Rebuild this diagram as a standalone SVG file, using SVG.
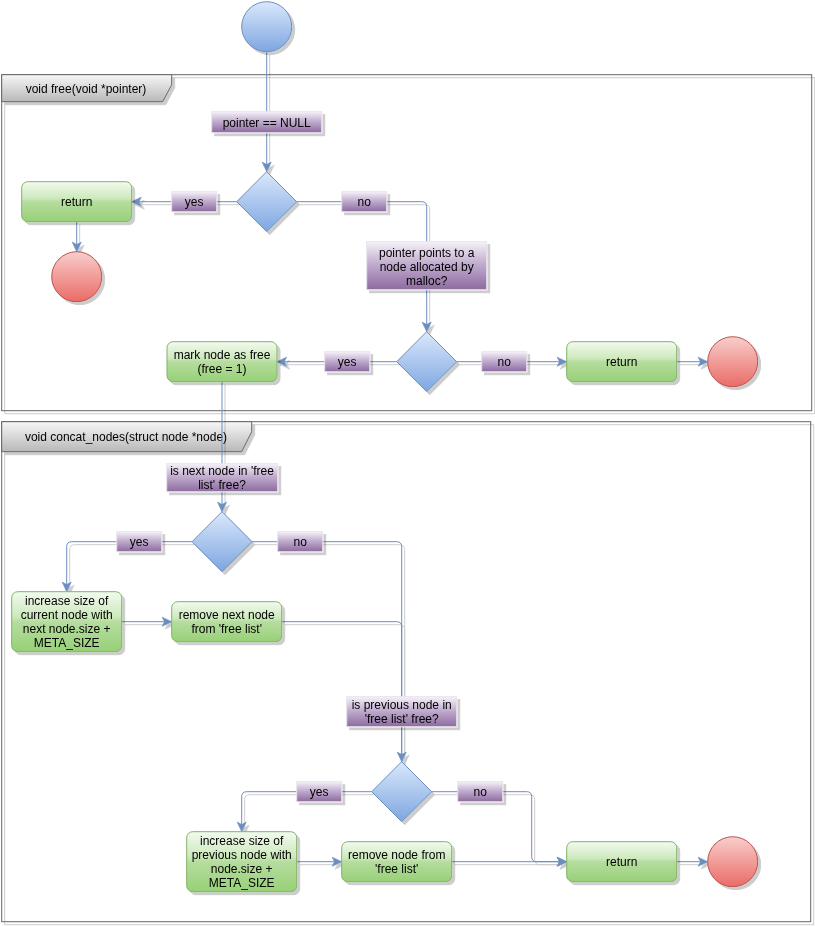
<svg xmlns="http://www.w3.org/2000/svg" width="815" height="926" viewBox="0 0 815 926">
<style>
.t{font-family:"Liberation Sans",Arial,Helvetica,sans-serif;font-size:12px;text-anchor:middle;fill:#000}
.pool{fill:none;stroke:#666;stroke-width:1}
.hdr{fill:url(#gGrey);stroke:#666;stroke-width:1}
.blue{fill:url(#gBlue);stroke:#6c8ebf;stroke-width:1}
.red{fill:url(#gRed);stroke:#b85450;stroke-width:1}
.green{fill:url(#gGreen);stroke:#82b366;stroke-width:1}
.lbl{fill:url(#gPurple);stroke:#e9e3ee;stroke-width:1}
.e{fill:none;stroke:#6c8ebf;stroke-width:1}
.ea{fill:none;stroke:#6c8ebf;stroke-width:1;marker-end:url(#arr)}
</style>
<defs>
<linearGradient id="gBlue" x1="0" y1="0" x2="0" y2="1"><stop offset="0" stop-color="#dae8fc"/><stop offset="1" stop-color="#7ea6e0"/></linearGradient>
<linearGradient id="gRed" x1="0" y1="0" x2="0" y2="1"><stop offset="0" stop-color="#f8cecc"/><stop offset="1" stop-color="#ea6b66"/></linearGradient>
<linearGradient id="gGreen" x1="0" y1="0" x2="0" y2="1"><stop offset="0" stop-color="#f3faf0"/><stop offset="0.42" stop-color="#cce9bb"/><stop offset="0.5" stop-color="#b6dd9f"/><stop offset="1" stop-color="#97d077"/></linearGradient>
<linearGradient id="gPurple" x1="0" y1="0" x2="0" y2="1"><stop offset="0" stop-color="#f6f2f8"/><stop offset="0.45" stop-color="#c2aed0"/><stop offset="1" stop-color="#8d6a9f"/></linearGradient>
<linearGradient id="gGrey" x1="0" y1="0" x2="0" y2="1"><stop offset="0" stop-color="#f7f7f7"/><stop offset="1" stop-color="#b8b8b8"/></linearGradient>
<filter id="sh" filterUnits="userSpaceOnUse" x="0" y="0" width="815" height="926">
<feOffset in="SourceAlpha" dx="3" dy="3"/>
<feComponentTransfer><feFuncA type="linear" slope="0.2"/></feComponentTransfer>
<feMerge><feMergeNode/><feMergeNode in="SourceGraphic"/></feMerge>
</filter>
<marker id="arr" markerUnits="userSpaceOnUse" markerWidth="12" markerHeight="12" viewBox="0 0 10 10" refX="9" refY="5" orient="auto">
<path d="M1,1.2 L9,5 L1,8.8 L3,5 Z" fill="#6c8ebf" stroke="#6c8ebf" stroke-width="0.5"/>
</marker>
</defs>
<rect width="815" height="926" fill="#fff"/>

<g id="pool1" filter="url(#sh)">
<rect class="pool" x="1.7" y="74.7" width="810" height="336"/>
<path class="hdr" d="M1.7 74.7 H171.7 V84.7 L162.7 101.7 H1.7 Z"/>
<text class="t" x="86" y="92.5">void free(void *pointer)</text>
</g>
<g id="pool2" filter="url(#sh)">
<rect class="pool" x="1.7" y="421.7" width="809" height="500"/>
<path class="hdr" d="M1.7 421.7 H251.7 V431.7 L241.7 451.7 H1.7 Z"/>
<text class="t" x="126" y="441">void concat_nodes(struct node *node)</text>
</g>

<g id="connectors" filter="url(#sh)">
<path class="ea" d="M266.7 51.7 V171.7"/>
<path class="ea" d="M236.7 201.7 H131.7"/>
<path class="ea" d="M296.7 201.7 H421.7 Q426.7 201.7 426.7 206.7 V331.7"/>
<path class="ea" d="M76.7 221.7 V251.7"/>
<path class="ea" d="M396.7 361.7 H277"/>
<path class="ea" d="M456.7 361.7 H566.7"/>
<path class="ea" d="M676.7 361.7 H707.7"/>
<path class="ea" d="M222 381.7 V511.7"/>
<path class="ea" d="M192 541.7 H71.7 Q66.7 541.7 66.7 546.7 V591.7"/>
<path class="ea" d="M252 541.7 H396.7 Q401.7 541.7 401.7 546.7 V761.7"/>
<path class="ea" d="M121.7 621.7 H171.7"/>
<path class="e" d="M281.7 621.7 H396.7 Q401.7 621.7 401.7 626.7 V761.7"/>
<path class="ea" d="M371.7 791.7 H246.7 Q241.7 791.7 241.7 796.7 V831.7"/>
<path class="ea" d="M431.7 791.7 H526.7 Q531.7 791.7 531.7 796.7 V856.7 Q531.7 861.7 536.7 861.7 H566.7"/>
<path class="ea" d="M296.7 861.7 H341.7"/>
<path class="ea" d="M451.7 861.7 H566.7"/>
<path class="ea" d="M676.7 861.7 H707.7"/>
</g>

<g id="start" filter="url(#sh)"><circle class="blue" cx="266.7" cy="26.7" r="25"/></g>

<g id="lbl_null" filter="url(#sh)"><rect class="lbl" x="211.7" y="111.7" width="110" height="21"/><text class="t" x="266.7" y="126.5">pointer == NULL</text></g>

<g id="dec1" filter="url(#sh)"><path class="blue" d="M266.7 171.7 L296.7 201.7 L266.7 231.7 L236.7 201.7 Z"/></g>
<g id="return1" filter="url(#sh)"><rect class="green" x="21.7" y="181.7" width="110" height="40" rx="6"/><text class="t" x="76.7" y="206">return</text></g>
<g id="end1" filter="url(#sh)"><circle class="red" cx="76.7" cy="276.7" r="25"/></g>
<g id="lbl_yes1" filter="url(#sh)"><rect class="lbl" x="171.7" y="191.7" width="45" height="20"/><text class="t" x="194.2" y="206">yes</text></g>
<g id="lbl_no1" filter="url(#sh)"><rect class="lbl" x="341.7" y="191.7" width="45" height="20"/><text class="t" x="364.2" y="206">no</text></g>

<g id="lbl_malloc" filter="url(#sh)"><rect class="lbl" x="366.7" y="241.7" width="120" height="48"/>
<text class="t" x="426.7" y="257">pointer points to a</text><text class="t" x="426.7" y="271">node allocated by</text><text class="t" x="426.7" y="285">malloc?</text></g>

<g id="dec2" filter="url(#sh)"><path class="blue" d="M426.7 331.7 L456.7 361.7 L426.7 391.7 L396.7 361.7 Z"/></g>
<g id="lbl_yes2" filter="url(#sh)"><rect class="lbl" x="324.7" y="351.7" width="45" height="20"/><text class="t" x="347.2" y="366">yes</text></g>
<g id="lbl_no2" filter="url(#sh)"><rect class="lbl" x="481.7" y="351.7" width="45" height="20"/><text class="t" x="504.2" y="366">no</text></g>
<g id="return2" filter="url(#sh)"><rect class="green" x="566.7" y="341.7" width="110" height="40" rx="6"/><text class="t" x="621.7" y="366">return</text></g>
<g id="end2" filter="url(#sh)"><circle class="red" cx="732.7" cy="361.7" r="25"/></g>
<g id="mark" filter="url(#sh)"><rect class="green" x="167" y="341.7" width="110" height="40" rx="6"/>
<text class="t" x="222" y="359">mark node as free</text><text class="t" x="222" y="373">(free = 1)</text></g>

<g id="lbl_next" filter="url(#sh)"><rect class="lbl" x="166.7" y="463.7" width="111" height="28"/>
<text class="t" x="222" y="475">is next node in 'free</text><text class="t" x="222" y="489">list' free?</text></g>
<g id="dec3" filter="url(#sh)"><path class="blue" d="M222 511.7 L252 541.7 L222 571.7 L192 541.7 Z"/></g>
<g id="lbl_yes3" filter="url(#sh)"><rect class="lbl" x="116.7" y="531.7" width="45" height="20"/><text class="t" x="139.2" y="546">yes</text></g>
<g id="lbl_no3" filter="url(#sh)"><rect class="lbl" x="277.7" y="531.7" width="45" height="20"/><text class="t" x="300.2" y="546">no</text></g>
<g id="inc_cur" filter="url(#sh)"><rect class="green" x="11.7" y="591.7" width="110" height="60" rx="6"/>
<text class="t" x="66.7" y="605">increase size of</text><text class="t" x="66.7" y="619">current node with</text><text class="t" x="66.7" y="633">next node.size +</text><text class="t" x="66.7" y="647">META_SIZE</text></g>
<g id="rm_next" filter="url(#sh)"><rect class="green" x="171.7" y="601.7" width="110" height="40" rx="6"/>
<text class="t" x="226.7" y="619">remove next node</text><text class="t" x="226.7" y="633">from 'free list'</text></g>

<g id="lbl_prev" filter="url(#sh)"><rect class="lbl" x="346.7" y="696.7" width="110" height="30"/>
<text class="t" x="401.7" y="709">is previous node in</text><text class="t" x="401.7" y="723">'free list' free?</text></g>
<g id="dec4" filter="url(#sh)"><path class="blue" d="M401.7 761.7 L431.7 791.7 L401.7 821.7 L371.7 791.7 Z"/></g>
<g id="lbl_yes4" filter="url(#sh)"><rect class="lbl" x="296.7" y="781.7" width="45" height="20"/><text class="t" x="319.2" y="796">yes</text></g>
<g id="lbl_no4" filter="url(#sh)"><rect class="lbl" x="457.7" y="781.7" width="45" height="20"/><text class="t" x="480.2" y="796">no</text></g>
<g id="inc_prev" filter="url(#sh)"><rect class="green" x="186.7" y="831.7" width="110" height="60" rx="6"/>
<text class="t" x="241.7" y="845">increase size of</text><text class="t" x="241.7" y="859">previous node with</text><text class="t" x="241.7" y="873">node.size +</text><text class="t" x="241.7" y="887">META_SIZE</text></g>
<g id="rm_node" filter="url(#sh)"><rect class="green" x="341.7" y="841.7" width="110" height="40" rx="6"/>
<text class="t" x="396.7" y="859">remove node from</text><text class="t" x="396.7" y="873">'free list'</text></g>
<g id="return3" filter="url(#sh)"><rect class="green" x="566.7" y="841.7" width="110" height="40" rx="6"/><text class="t" x="621.7" y="866">return</text></g>
<g id="end3" filter="url(#sh)"><circle class="red" cx="732.7" cy="861.7" r="25"/></g>
</svg>
